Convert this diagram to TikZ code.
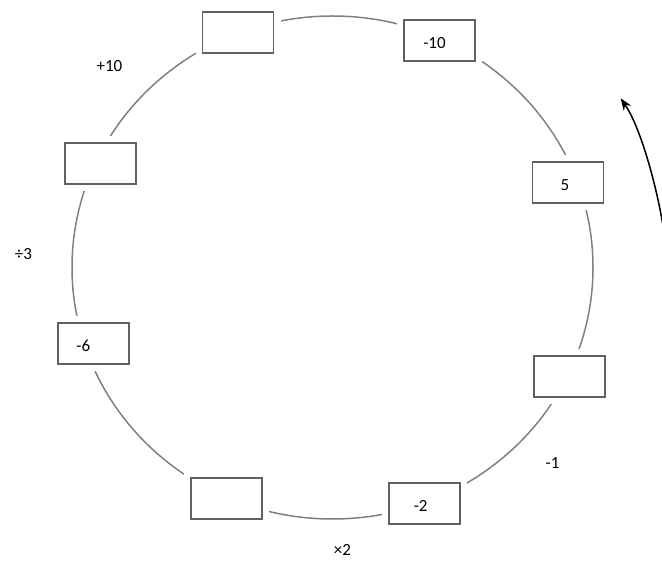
\documentclass[tikz,border=0pt]{standalone}
\usepackage{fontspec}
\setmainfont{Carlito}
\usetikzlibrary{arrows.meta}
\begin{document}
\begin{tikzpicture}[x=1pt,y=-1pt,
  ring/.style={draw=black!50,line width=1.5pt},
  valbox/.style={draw=black!62,line width=1.7pt,fill=white,minimum width=71pt,minimum height=41pt,inner sep=0pt,
     preaction={draw=white,line width=14pt}},
  val/.style={font=\fontsize{17}{20}\selectfont},
  oplabel/.style={font=\fontsize{17}{20}\selectfont,inner sep=0pt},
  turn/.style={draw=black,line width=1.5pt,-{Stealth[length=12pt,width=9pt]}}]
\useasboundingbox (0,0) rectangle (662,561);
\draw[ring] (332.5,267.5) ellipse [x radius=260.5, y radius=251.5];
\node[valbox] (b1) at (238,32.3) {};
\node[valbox,label={[val,xshift=-5pt,yshift=-2pt]center:-10}] (b2) at (439.5,40.8) {};
\node[valbox,label={[val,xshift=-3pt,yshift=-2pt]center:5}] (b3) at (568,182.8) {};
\node[valbox] (b4) at (569.3,376.3) {};
\node[valbox,label={[val,xshift=-4pt,yshift=-2pt]center:-2}] (b5) at (424.7,503.5) {};
\node[valbox] (b6) at (226.7,498.2) {};
\node[valbox,label={[val,xshift=-10pt,yshift=-2pt]center:-6}] (b7) at (93.3,343.8) {};
\node[valbox] (b8) at (100.5,163.5) {};
\node[oplabel] (l1) at (109.5,66) {+10};
\node[oplabel] (l2) at (23.5,254.5) {÷3};
\node[oplabel] (l3) at (552.5,463) {-1};
\node[oplabel] (l4) at (342.5,550) {×2};
\coordinate (as) at (663,226);
\coordinate (ae) at (620.7,98.3);
\draw[turn] (as) .. controls (657,188) and (641,128) .. (ae);
\end{tikzpicture}
\end{document}
